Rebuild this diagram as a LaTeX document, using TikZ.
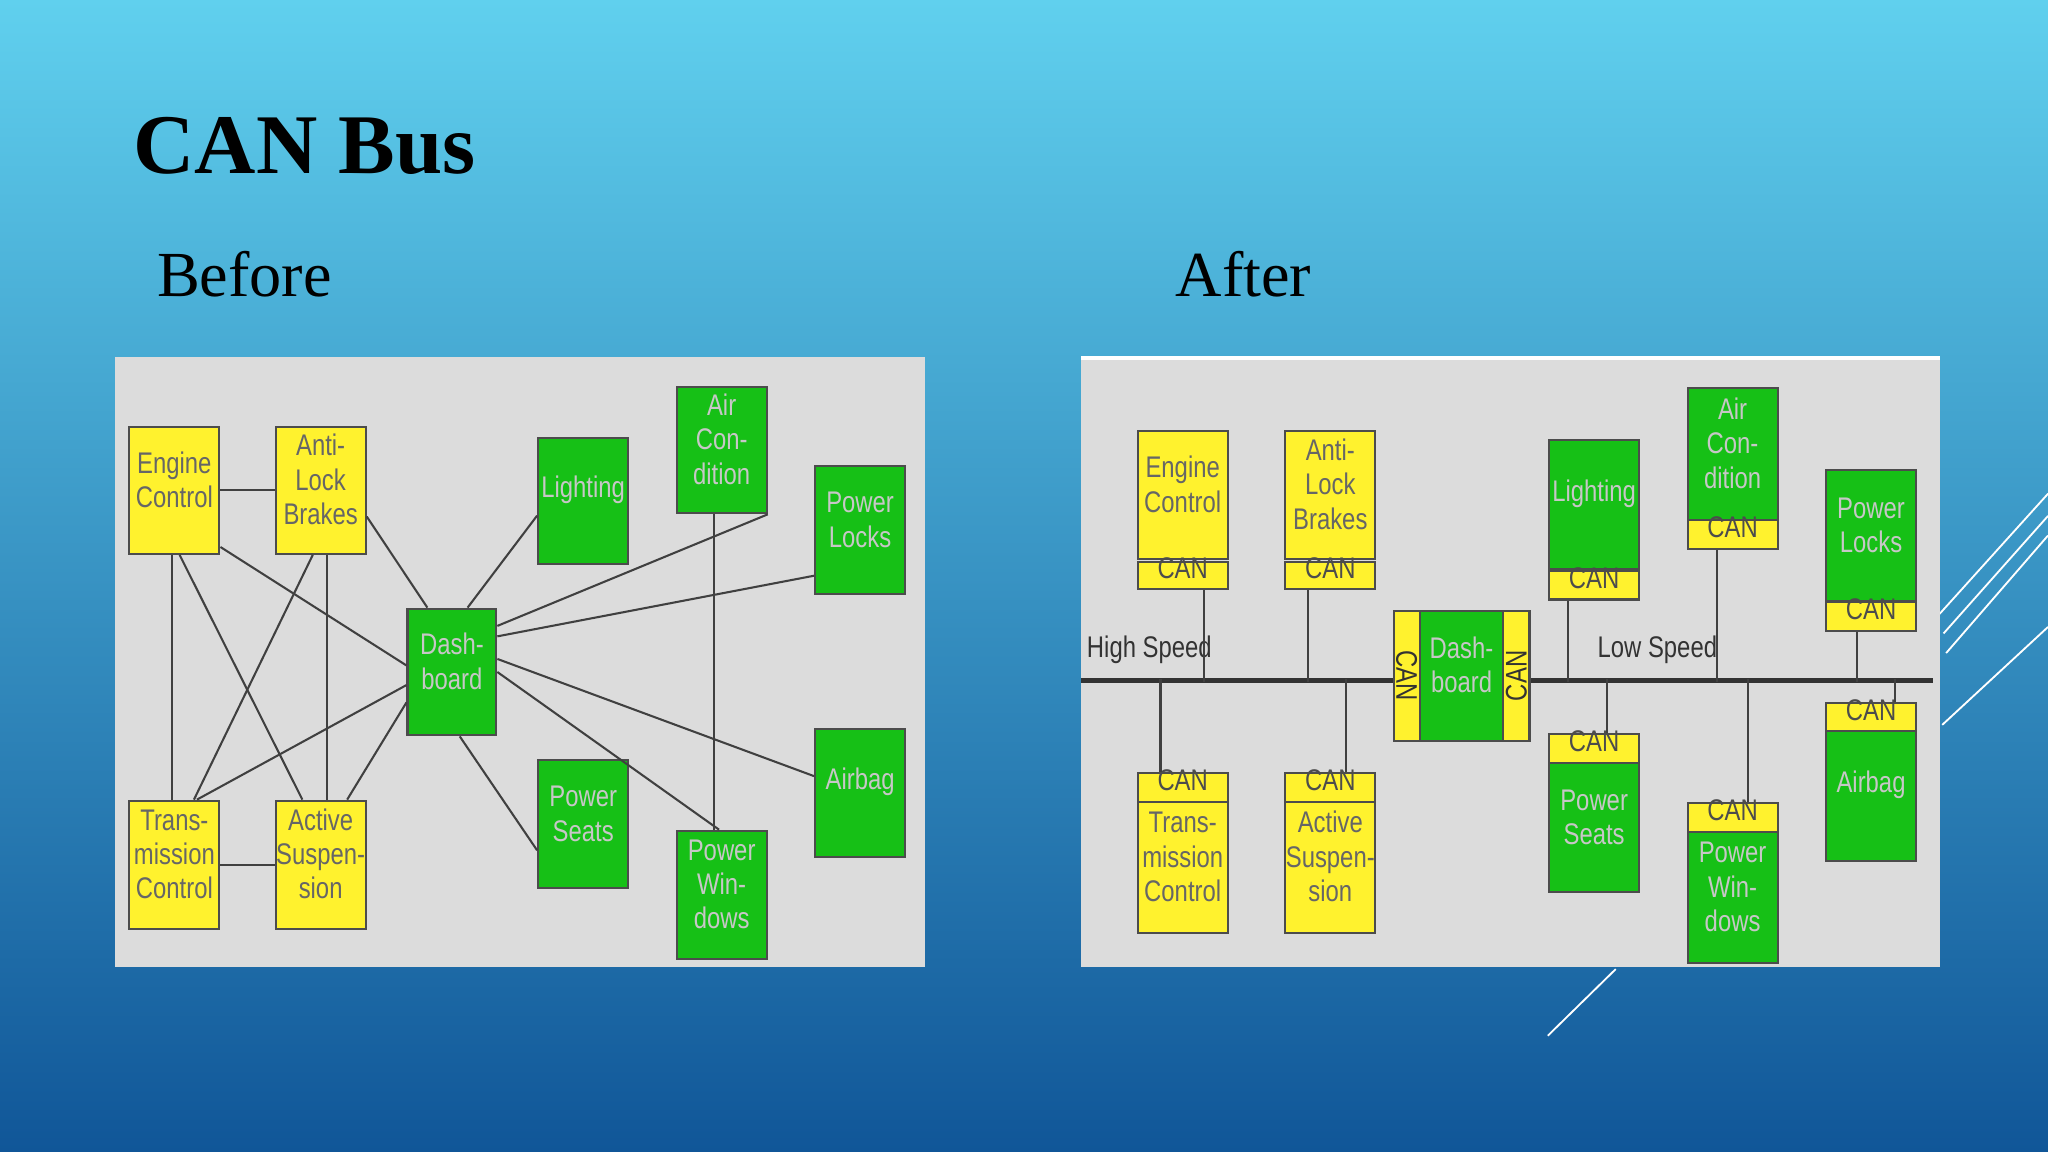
\documentclass[tikz,border=0pt]{standalone}
\usepackage{fontspec}
\setmainfont{Liberation Serif}
\newfontfamily\boxfont{Liberation Sans}[FakeStretch=0.8]
\usetikzlibrary{fit,calc}
\definecolor{yb}{HTML}{FFF22E}
\definecolor{gb}{HTML}{16C016}
\definecolor{pan}{HTML}{DCDCDC}
\begin{document}
\begin{tikzpicture}[x=0.02cm,y=-0.02cm,
 bx/.style={draw=black!70,line width=0.9pt,inner sep=0pt,font=\boxfont\fontsize{13}{15}\selectfont,text=black!60,align=center},
 Y/.style={bx,fill=yb},
 G/.style={bx,fill=gb,text=white!78!black},
 C/.style={bx,fill=yb,text=black!70},
 ln/.style={draw=black!75,line width=0.9pt},
 lab/.style={font=\boxfont\fontsize{13}{14}\selectfont,text=black!80}]
\shade[top color={rgb,255:red,96;green,208;blue,238},bottom color={rgb,255:red,16;green,86;blue,152}] (0,0) rectangle (1568,882);
\useasboundingbox (0,0) rectangle (1568,882);
\node[anchor=west,font=\bfseries\fontsize{37}{40}\selectfont] (title) at (96,112) {CAN Bus};
\node[anchor=west,font=\fontsize{28}{30}\selectfont] (bef) at (114,210) {Before};
\node[anchor=west,font=\fontsize{28}{30}\selectfont] (aft) at (894,210) {After};
% decorations
\draw[white,line width=0.8pt] (1485,470)--(1568,378) (1488,485)--(1568,395) (1490,500)--(1568,410) (1487,555)--(1568,480);
\draw[white,line width=0.8pt] (1185,793)--(1237,742);
% panels
\node[fill=pan,inner sep=0pt,fit={(88,273)(708,740)}] (pL) {};
\node[fill=pan,inner sep=0pt,fit={(828,273)(1485,740)}] (pR) {};
\draw[white,line width=1.5pt] (828,274)--(1485,274);
% ---- Before ----
\node[Y,fit={(99,327)(168,424)}] (eng) {Engine\\Control};
\node[Y,fit={(211,327)(280,424)}] (abs) {Anti-\\Lock\\Brakes};
\node[G,fit={(412,335)(481,432)}] (lig) {Lighting\\[2.2em]};
\node[G,fit={(518,296)(587,393)}] (air) {Air\\{Con-}\\dition};
\node[G,fit={(624,357)(693,455)}] (pl) {Power\\Locks};
\node[G,fit={(312,466)(380,563)}] (dash) {Dash-\\board};
\node[G,fit={(624,558)(693,656)}] (bag) {Airbag\\[2.2em]};
\node[G,fit={(412,582)(481,680)}] (ps) {Power\\Seats\\[1.2em]};
\node[G,fit={(518,636)(587,734)}] (pw) {Power\\{Win-}\\dows};
\node[Y,fit={(99,613)(168,711)}] (tr) {{Trans-}\\mission\\Control};
\node[Y,fit={(211,613)(280,711)}] (as) {Active\\{Suspen-}\\sion};
\path[ln] (eng.east) -- (abs.west);
\path[ln] ($(eng.south)+(-2,0)$) -- ($(tr.north)+(-2,0)$);
\path[ln] ($(eng.south)+(4,0)$) -- ($(as.north)+(-14,0)$);
\path[ln] ($(eng.south east)+(0,-6)$) -- ($(dash.west)+(0,-5)$);
\path[ln] ($(abs.south)+(-6,0)$) -- ($(tr.north)+(15,0)$);
\path[ln] ($(abs.south)+(5,0)$) -- ($(as.north)+(5,0)$);
\path[ln] ($(abs.east)+(0,20)$) -- ($(dash.north west)+(16,0)$);
\path[ln] ($(tr.north east)+(-18,0)$) -- ($(dash.west)+(0,10)$);
\path[ln] ($(as.north east)+(-15,0)$) -- ($(dash.south west)+(0,-26)$);
\path[ln] (tr.east) -- (as.west);
\path[ln] ($(dash.north)+(12,0)$) -- ($(lig.south west)+(0,-38)$);
\path[ln] ($(dash.north east)+(0,14)$) -- (air.south east);
\path[ln] ($(dash.north east)+(0,22)$) -- ($(pl.south west)+(0,-15)$);
\path[ln] ($(dash.east)+(0,-10)$) -- ($(bag.north west)+(0,37)$);
\path[ln] ($(dash.east)+(0,0)$) -- ($(pw.north)+(-2,0)$);
\path[ln] ($(dash.south)+(6,0)$) -- ($(ps.west)+(0,20)$);
\path[ln] ($(air.south)+(-6,0)$) -- ($(pw.north)+(-6,0)$);
% ---- After ----
\coordinate (bL) at (828,521); \coordinate (bR) at (1480,521);
\draw[black!80,line width=2pt] (bL) -- (bR);
\node[lab,anchor=south west] (hs) at (826,514) {High Speed};
\node[lab,anchor=south west] (lsp) at (1217,514) {Low Speed};
\node[Y,fit={(871,330)(940,428)}] (e2) {Engine\\Control};
\node[C,fit={(871,430)(940,451)}] (ce2) {\raisebox{-3pt}{CAN}};
\node[Y,fit={(984,330)(1053,428)}] (a2) {Anti-\\Lock\\Brakes};
\node[C,fit={(984,430)(1053,451)}] (ca2) {\raisebox{-3pt}{CAN}};
\node[G,fit={(1186,337)(1255,436)}] (l2) {Lighting\\[2.2em]};
\node[C,fit={(1186,437)(1255,459)}] (cl2) {\raisebox{-3pt}{CAN}};
\node[G,fit={(1292,297)(1361,398)}] (ai2) {Air\\{Con-}\\dition};
\node[C,fit={(1292,398)(1361,420)}] (cai2) {\raisebox{-3pt}{CAN}};
\node[G,fit={(1398,360)(1467,460)}] (p2) {Power\\Locks};
\node[C,fit={(1398,461)(1467,483)}] (cp2) {\raisebox{-3pt}{CAN}};
\node[C,fit={(1067,468)(1087,567)}] (cdl) {};
\node[rotate=-90,lab] at (cdl) {CAN};
\node[G,fit={(1087,468)(1151,567)}] (d2b) {Dash-\\board};
\node[C,fit={(1151,468)(1171,567)}] (cdr) {};
\node[rotate=90,lab] at (cdr) {CAN};
\node[C,fit={(871,592)(940,614)}] (ct2) {\raisebox{-3pt}{CAN}};
\node[Y,fit={(871,614)(940,714)}] (t2) {{Trans-}\\mission\\Control};
\node[C,fit={(984,592)(1053,614)}] (cas2) {\raisebox{-3pt}{CAN}};
\node[Y,fit={(984,614)(1053,714)}] (as2) {Active\\{Suspen-}\\sion};
\node[C,fit={(1186,562)(1255,584)}] (cps2) {\raisebox{-3pt}{CAN}};
\node[G,fit={(1186,584)(1255,683)}] (ps2) {Power\\Seats\\[1.2em]};
\node[C,fit={(1292,615)(1361,637)}] (cpw2) {\raisebox{-3pt}{CAN}};
\node[G,fit={(1292,637)(1361,737)}] (pw2) {Power\\{Win-}\\dows};
\node[C,fit={(1398,538)(1467,560)}] (cb2) {\raisebox{-3pt}{CAN}};
\node[G,fit={(1398,560)(1467,659)}] (b2) {Airbag\\[2.2em]};
\path[ln] ($(ce2.south)+(16,0)$) -- ++(0,70);
\path[ln] ($(ca2.south)+(-17,0)$) -- ++(0,70);
\path[ln] ($(cl2.south west)+(15,0)$) -- ++(0,62);
\path[ln] ($(cai2.south)+(-12,0)$) -- ++(0,101);
\path[ln] ($(cp2.south)+(-11,0)$) -- ++(0,38);
\path[ln] ($(ct2.north)+(-17,0)$) -- ++(0,-71);
\path[ln] ($(cas2.north)+(12,0)$) -- ++(0,-71);
\path[ln] ($(cps2.north)+(10,0)$) -- ++(0,-41);
\path[ln] ($(cpw2.north)+(12,0)$) -- ++(0,-94);
\path[ln] ($(cb2.north)+(18,0)$) -- ++(0,-17);
\end{tikzpicture}
\end{document}
